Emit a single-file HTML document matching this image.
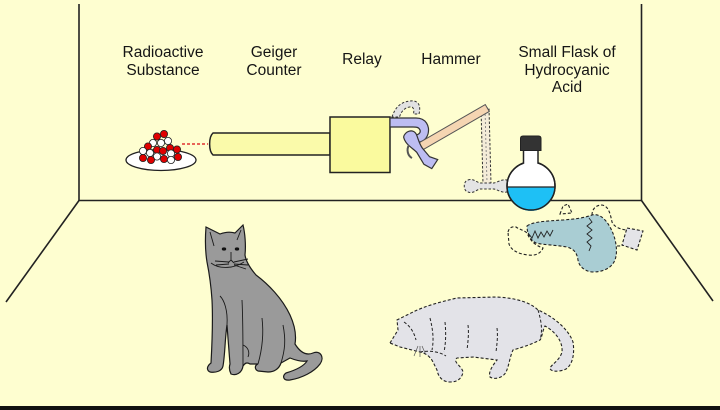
<!DOCTYPE html>
<html><head><meta charset="utf-8"><style>
html,body{margin:0;padding:0;background:#FEFED0;}
svg{display:block;}
text{font-family:"Liberation Sans",Arial,sans-serif;font-size:15.5px;fill:#151515;text-anchor:middle;}
</style></head><body>
<svg width="720" height="410" viewBox="0 0 720 410" xmlns="http://www.w3.org/2000/svg">
<rect x="0" y="0" width="720" height="410" fill="#FEFED0"/>
<!-- room -->
<g stroke="#222" stroke-width="1.6" fill="none">
<line x1="79" y1="4" x2="79" y2="200.5"/>
<line x1="641.5" y1="4" x2="641.5" y2="200.5"/>
<line x1="79" y1="200.5" x2="641.5" y2="200.5"/>
<line x1="79" y1="200.5" x2="6" y2="302"/>
<line x1="641.5" y1="200.5" x2="713" y2="301"/>
</g>
<rect x="0" y="406" width="720" height="4" fill="#111"/>
<!-- labels -->
<text x="163" y="57">Radioactive</text>
<text x="163" y="75">Substance</text>
<text x="274" y="57">Geiger</text>
<text x="274" y="75">Counter</text>
<text x="362" y="64">Relay</text>
<text x="451" y="64">Hammer</text>
<text x="567" y="57">Small Flask of</text>
<text x="567" y="75">Hydrocyanic</text>
<text x="567" y="92">Acid</text>
<!-- radioactive plate -->
<ellipse cx="161" cy="160" rx="35" ry="10.5" fill="#fff" stroke="#222" stroke-width="1.3"/>
<g stroke="#222" stroke-width="0.8">
<circle cx="164" cy="134" r="3.6" fill="#E00000"/>
<circle cx="157" cy="136.5" r="3.6" fill="#E00000"/>
<circle cx="168" cy="141" r="3.6" fill="#fff"/>
<circle cx="161" cy="143" r="3.6" fill="#fff"/>
<circle cx="153" cy="143" r="3.6" fill="#fff"/>
<circle cx="148" cy="146.5" r="3.6" fill="#E00000"/>
<circle cx="170" cy="148" r="3.6" fill="#E00000"/>
<circle cx="177" cy="149.5" r="3.6" fill="#E00000"/>
<circle cx="157" cy="150" r="3.6" fill="#E00000"/>
<circle cx="163" cy="151" r="3.6" fill="#E00000"/>
<circle cx="143" cy="151" r="3.6" fill="#fff"/>
<circle cx="150" cy="153" r="3.6" fill="#fff"/>
<circle cx="171" cy="153.5" r="3.6" fill="#fff"/>
<circle cx="157" cy="156.5" r="3.6" fill="#fff"/>
<circle cx="178" cy="157" r="3.6" fill="#E00000"/>
<circle cx="143" cy="158" r="3.6" fill="#E00000"/>
<circle cx="164" cy="159" r="3.6" fill="#E00000"/>
<circle cx="171" cy="160" r="3.6" fill="#fff"/>
<circle cx="151" cy="160" r="3.6" fill="#E00000"/>
</g>
<line x1="182" y1="144" x2="208" y2="144" stroke="#E03030" stroke-width="1.6" stroke-dasharray="3,2"/>
<!-- geiger tube & relay box -->
<path d="M213,133 L330,133 L330,155 L213,155 C208.5,151 208.5,137 213,133 Z" fill="#FAFAAA" stroke="#222" stroke-width="1.5"/>
<rect x="330" y="117" width="60" height="55.5" fill="#FAFA9E" stroke="#222" stroke-width="1.5"/>
<!-- ghost arm -->
<path d="M392,117 C395,108 400,102 410,101 C419,100 421,106 419,114 L413.5,114 C414.5,109 413,106 409.5,107 C404,108 401,112 399.5,117 Z" fill="#E2E2E2" stroke="#333" stroke-width="1" stroke-dasharray="2.5,1.8"/>
<!-- ghost handle -->
<path d="M481,108 L489,108 L491,184 L483,184 Z" fill="#F4ECD8" stroke="#333" stroke-width="1" stroke-dasharray="2.5,1.8"/>
<line x1="485" y1="110" x2="487" y2="182" stroke="#777" stroke-width="0.8" stroke-dasharray="2,2"/>
<!-- ghost head -->
<path d="M468,180 C473,178 476,182 480,183 L494,183 C498,182 502,179 507,180 L507,192 C502,193 498,190 494,189 L480,189 C476,190 473,194 468,192 C463,191 463,181 468,180 Z" fill="#E4E4E4" stroke="#333" stroke-width="1" stroke-dasharray="2.5,1.8"/>
<!-- relay arm -->
<path d="M390,118 L416,118 C426,118 430,126 428,134 C426,141 419,144 413,141 L412,135 C418,136 421,133 420,130 C419,127 416,127 413,127 L390,127 Z" fill="#BDBDF2" stroke="#333" stroke-width="1.2"/>
<!-- hammer handle -->
<g transform="translate(418,148) rotate(-30)">
<rect x="0" y="-4" width="80" height="8" fill="#F5D5B2" stroke="#555" stroke-width="1"/>
</g>
<!-- hammer head -->
<g transform="translate(420,150) rotate(-35)">
<path d="M-6,-20 C-2,-24 7,-22 6,-15 C5,-10 3,-6 3,0 L4,11 L9,18 L-1,22 L-5,14 L-4,0 C-5,-6 -9,-13 -6,-20 Z" fill="#BDBDF2" stroke="#333" stroke-width="1.2"/>
</g>
<path d="M409,145 C406,150 408,156 412,158" fill="none" stroke="#555" stroke-width="2"/>
<!-- flask -->
<circle cx="531" cy="186" r="24" fill="#fff" stroke="#222" stroke-width="1.5"/>
<path d="M507,187 A24,24 0 0 0 555,187 Z" fill="#1EC0F5"/>
<circle cx="531" cy="186" r="24" fill="none" stroke="#222" stroke-width="1.5"/>
<line x1="507" y1="187" x2="555" y2="187" stroke="#222" stroke-width="1.2"/>
<rect x="523.5" y="148" width="14.5" height="17" fill="#fff"/>
<line x1="523.5" y1="149" x2="523.5" y2="163.8" stroke="#222" stroke-width="1.5"/>
<line x1="538" y1="149" x2="538" y2="163.8" stroke="#222" stroke-width="1.5"/>
<path d="M520.5,150.5 L520.5,138.5 Q520.5,136 523,136 L538.5,136 Q541,136 541,138.5 L541,150.5 Z" fill="#333" stroke="#222" stroke-width="1"/>
<!-- broken flask -->
<g stroke="#222" stroke-width="1.1" stroke-dasharray="3,2">
<path d="M508,232 C509,228 512,226 516,227 C520,230 524,230 527,233 C530,240 534,245 543,248 C541,253 536,256 528,255 C518,254 511,250 509,244 Z" fill="none"/>
<path d="M527,226 C532,222 545,221 563,220 C575,219 584,218 592,215 C600,213 607,220 612,231 C617,242 618,255 614,262 C610,269 602,272 592,272 C584,271 579,266 578,260 C577,253 574,249 567,247 C556,245 544,245 536,243 C530,240 527,233 527,226 Z" fill="#A9CDD3"/>
<path d="M592,215 C592,210 595,205 602,205 C608,206 610,212 612,222 C614,227 620,229 626,230" fill="none"/>
<path d="M617,246 C620,246 622,246 623,245" fill="none"/>
<path d="M627,228 L643,231 L637,250 L622,245 Z" fill="#E4E4E8"/>
<path d="M560,214 L563,206 L568,204 L572,213 Z" fill="none"/>
</g>
<g stroke="#222" stroke-width="0.9" fill="none">
<path d="M528,233 L532,238 L535,231 L538,238 L541,232 L544,237 L547,231 L550,236 L553,230"/>
<path d="M589,218 L592,222 L587,226 L592,230 L587,234 L592,238 L587,242 L591,246 L589,251"/>
</g>
<!-- live cat -->
<path d="M206,227 L220,234 Q228,231 235,233 L243,225 C245,233 246,245 245,255 C246,262 250,268 256,275 C268,284 282,298 290,315 C296,328 296,338 295,344 C300,352 306,356 313,353 C320,350 325,357 320,364 C314,372 302,378 290,380 C283,381 282,376 286,373 C296,370 304,366 307,361 C301,362 295,360 290,358 L281,363 C279,369 274,372 268,372 L258,371 C254,369 255,365 258,364 L250,364 C247,362 245,363 243,366 C242,373 236,376 231,374 C229,370 229,367 230,364 C229,352 228,338 227,325 C225,338 225,355 223,366 C222,371 216,373 210,372 C206,370 207,366 211,363 C212,345 213,320 212,300 C211,285 209,272 207,262 C205,250 205,240 206,227 Z" fill="#9A9A9A" stroke="#1a1a1a" stroke-width="1.2"/>
<g stroke="#1a1a1a" stroke-width="0.9" fill="none">
<path d="M210,232 L214,246"/>
<path d="M241,230 L237,240"/>
<path d="M231,252 L231,260 L228,263 M231,260 L234,263"/>
<path d="M211,263 C220,270 235,268 244,262"/>
<path d="M215,261 L229,262 M216,265 L229,264 M234,262 L248,259 M234,264 L248,265 M234,265 L246,269"/>
<path d="M227,325 C228,310 224,300 220,296"/>
<path d="M242,300 C243,320 243,340 243,366"/>
<path d="M258,364 C262,350 264,335 262,318"/>
<path d="M281,363 C285,350 286,340 283,325"/>
<path d="M243,345 C248,347 250,352 248,357"/>
</g>
<ellipse cx="224" cy="249" rx="2.2" ry="1.6" fill="#111"/>
<ellipse cx="237" cy="249" rx="2.2" ry="1.6" fill="#111"/>
<!-- dead cat -->
<path d="M390,343 L398,330 L397,320 L405,316 L413,312 C425,306 440,302 457,298 L497,297 C515,298 530,302 538,310 C552,316 568,328 573,342 C575,355 572,365 566,369 C560,372 550,372 550,368 C552,364 560,360 562,352 C563,342 556,332 545,326 C542,332 542,338 540,340 C530,345 520,348 513,350 C510,356 509,366 506,372 C503,378 494,380 490,377 C488,372 493,365 497,360 L473,357 L457,358 C452,362 462,366 463,372 C462,378 458,382 450,382 C442,382 438,376 437,370 L433,362 C430,356 425,353 420,352 L400,347 Z" fill="#E3E3E8" stroke="#222" stroke-width="1.1" stroke-dasharray="3,2"/>
<g stroke="#222" stroke-width="1" fill="none" stroke-dasharray="3,2">
<path d="M404,322 C410,326 414,332 416,340"/>
<path d="M430,318 C433,330 434,340 432,350"/>
<path d="M445,322 C446,332 446,342 444,352"/>
<path d="M468,325 C469,333 468,342 467,350"/>
<path d="M497,328 C498,336 497,344 496,352"/>
<path d="M538,310 C541,320 543,330 540,340"/>
<path d="M420,352 C430,350 440,352 446,356"/>
</g>
<path d="M418,346 L414,356 M420,346 L420,357 M422,346 L426,355" stroke="#555" stroke-width="0.7" fill="none"/>
</svg>
</body></html>
